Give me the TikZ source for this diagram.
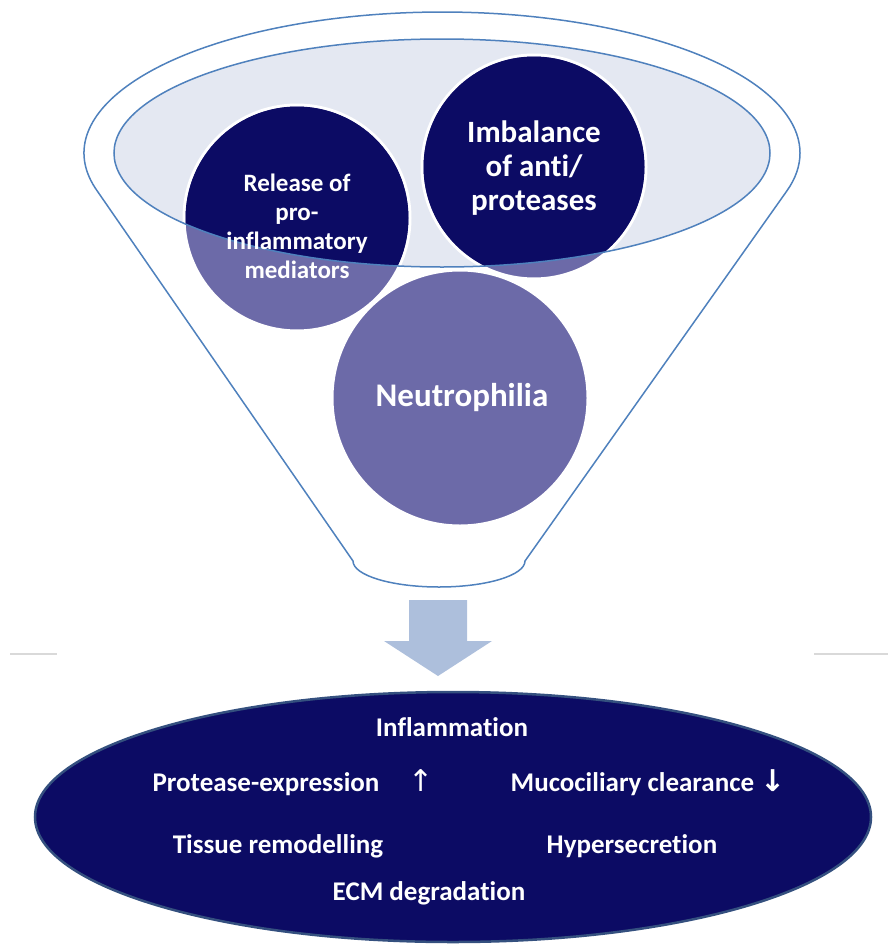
\documentclass[tikz,border=0pt]{standalone}
\usepackage{fontspec}
\setmainfont{Carlito}[Ligatures=CommonOff]
\newfontfamily\arrowfont{DejaVu Sans}
\usetikzlibrary{shapes.geometric}
\definecolor{deepblue}{HTML}{0C0B64}
\definecolor{mauve}{HTML}{6C6AA8}
\definecolor{rim}{HTML}{4F81BD}
\definecolor{bowl}{HTML}{E4E8F2}
\definecolor{flowblue}{HTML}{ADBFDC}
\definecolor{greyrule}{HTML}{D9D9D9}
\definecolor{edgeblue}{HTML}{34507F}
\newcommand{\fsz}[2]{\fontsize{#1}{#2}\selectfont\bfseries}

\begin{document}
\begin{tikzpicture}[x=1pt, y=-1pt,
  bubble/.style={circle, draw=white, line width=3pt, fill=mauve, inner sep=0pt},
  words/.style={text=white, align=center, inner sep=0pt}]
\useasboundingbox (0,0) rectangle (888,945);
% funnel and its bowl
\draw[rim, line width=1.5pt, fill=white] (97.4,191.2)
  arc[start angle=164.3, end angle=375.7, x radius=358, y radius=141]
  -- (525,561) arc[start angle=0, end angle=180, x radius=86, y radius=26] -- cycle;
\fill[bowl] (442,153) ellipse [x radius=328, y radius=114];
% the three bubbles
\node[bubble, minimum size=256pt] (neutro) at (460,398) {};
\node[bubble, minimum size=226pt] (release) at (297,218) {};
\node[bubble, minimum size=224pt] (imbalance) at (534,167) {};
\begin{scope}
\clip (442,153) ellipse [x radius=328, y radius=114];
\fill[deepblue] (release) circle [radius=111.5];
\fill[deepblue] (imbalance) circle [radius=110.5];
\end{scope}
\draw[rim, line width=1.5pt] (442,153) ellipse [x radius=328, y radius=114];
\node[words, font=\fsz{25}{29}] (releasetxt) at (297,226) {Release of\\pro-\\inflammatory\\mediators};
\node[words, font=\fsz{31}{34}] (imbalancetxt) at (534,168) {Imbalance\\of anti/\\proteases};
\node[words, font=\fsz{33}{38}] (neutrotxt) at (462,398) {Neutrophilia};
% down arrow and side rules
\fill[flowblue] (409,600) -- (467,600) -- (467,641) -- (492,641) -- (438,676)
  -- (384,641) -- (409,641) -- cycle;
\draw[greyrule, line width=2pt] (10,654) -- (57,654);
\draw[greyrule, line width=2pt] (814,654) -- (888,654);
% outcome ellipse
\node[ellipse, fill=deepblue, draw=edgeblue, line width=2.5pt,
  minimum width=836pt, minimum height=250pt] (effects) at (453,817) {};
\node[words, font=\fsz{27}{32}] (inflam) at (452,727) {Inflammation};
\node[words, font=\fsz{27}{32}] (protease) at (266,784) {Protease-expression};
\node[words, font=\fontsize{30}{32}\arrowfont] (up) at (421,781) {↑};
\node[words, font=\fsz{27}{32}] (mucus) at (648,783) {Mucociliary clearance {\arrowfont\fontsize{30}{32}\selectfont↓}};
\node[words, font=\fsz{27}{32}] (tissue) at (278,846) {Tissue remodelling};
\node[words, font=\fsz{27}{32}] (hyper) at (632,846) {Hypersecretion};
\node[words, font=\fsz{27}{32}] (ecm) at (429,893) {ECM degradation};
\end{tikzpicture}
\end{document}
